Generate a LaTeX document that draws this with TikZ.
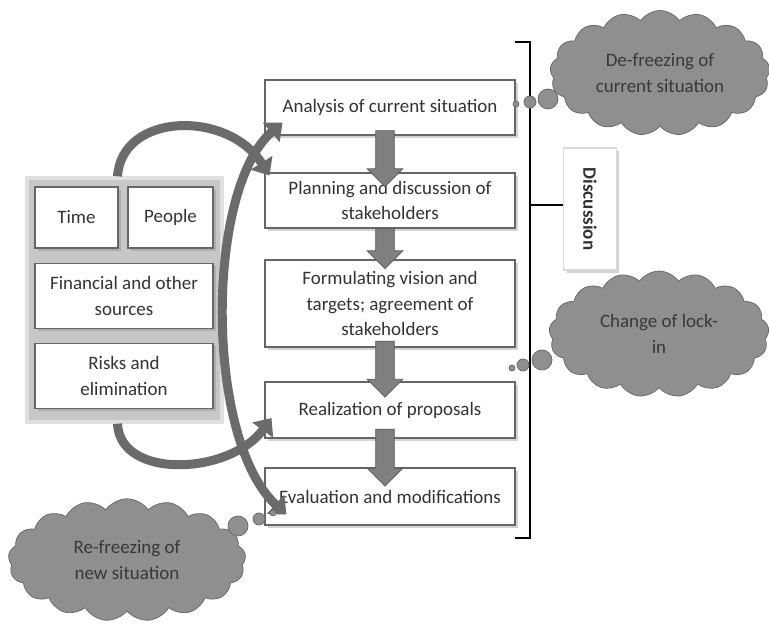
\documentclass[tikz,border=0pt]{standalone}
\usepackage{fontspec}
\setmainfont{Carlito}
\usetikzlibrary{shapes.symbols,shapes.arrows,shadows,calc,arrows.meta}

\tikzset{
    stage/.style={draw=black!60, line width=0.6pt, fill=white, align=center, text=black!80,
        inner sep=2pt, font=\fontsize{10.8}{14.5}\selectfont,
        drop shadow={shadow xshift=0.06cm, shadow yshift=-0.06cm, opacity=0.35}},
    resbg/.style={fill=black!22, draw=black!12, line width=2pt},
    dnarrow/.style={single arrow, shape border rotate=270, draw=black!65, fill=black!50,
        single arrow head extend=0.17cm, inner sep=0.18cm, xshift=-0.1cm},
    curvearrow/.style={draw=black!58, line width=0.18cm},
    thought/.style={cloud, cloud puffs=17, cloud puff arc=110, aspect=2, draw=black!60,
        fill=black!44, align=center, text=black!78, font=\fontsize{10.8}{14.5}\selectfont},
    bubble/.style={draw=black!60, fill=black!44},
    brk/.style={draw=black, line width=1.1pt}
}

\begin{document}
\begin{tikzpicture}[x=0.02cm, y=-0.02cm]
    \useasboundingbox (0,0) rectangle (769,624);

    % Resources
    \node[resbg, minimum width=3.9cm, minimum height=4.88cm] (grp) at (124.5,300) {};
    \node[stage, minimum width=1.66cm, minimum height=1.22cm] (time) at (76.5,217.5) {Time};
    \node[stage, minimum width=1.7cm, minimum height=1.22cm] (people) at (170.5,217.5) {People};
    \node[stage, minimum width=3.56cm, minimum height=1.3cm] (fin) at (124,296) {Financial and other\\sources};
    \node[stage, minimum width=3.56cm, minimum height=1.3cm] (risk) at (124,376) {Risks and\\elimination};

    % Process steps
    \node[stage, minimum width=5cm, minimum height=1.1cm] (ana) at (390,107.5) {Analysis of current situation};
    \node[stage, minimum width=5cm, minimum height=1.1cm] (plan) at (390,200.5) {Planning and discussion of\\stakeholders};
    \node[stage, minimum width=5cm, minimum height=1.74cm] (form) at (390,303.5) {Formulating vision and\\targets; agreement of\\stakeholders};
    \node[stage, minimum width=5cm, minimum height=1.12cm] (real) at (390,410) {Realization of proposals};
    \node[stage, minimum width=5cm, minimum height=1.14cm] (eval) at (390,496.5) {Evaluation and modifications};

    % Block arrows
    \node[dnarrow, minimum height=1.12cm] at ($(ana.south)!0.5!(plan.north)$) {};
    \node[dnarrow, minimum height=0.8cm] at ($(plan.south)!0.5!(form.north)$) {};
    \node[dnarrow, minimum height=1.12cm] at ($(form.south)!0.5!(real.north)$) {};
    \node[dnarrow, minimum height=1.14cm] at ($(real.south)!0.5!(eval.north)$) {};

    % Curved arrows
    \draw[curvearrow, -{Triangle[length=0.3cm,width=0.5cm]}]
        ($(grp.north)+(-7,0)$) .. controls (122,112) and (228,110) .. ($(plan.north west)+(5,3)$);
    \draw[curvearrow, -{Triangle[length=0.3cm,width=0.5cm]}]
        ($(grp.south)+(-7,0)$) .. controls (120,480) and (230,475) .. ($(real.west)+(7,8)$);
    \draw[curvearrow, {Triangle[length=0.3cm,width=0.5cm]}-{Triangle[length=0.3cm,width=0.5cm]}]
        ($(eval.south west)+(22,-11)$) .. controls (205,440) and (205,190) .. ($(ana.south west)+(18,-13)$);

    % Discussion bracket
    \draw[brk] (515,42) -| (530,538) -- (515,538);
    \node[stage, minimum width=1.06cm, minimum height=2.44cm, draw=black!15] (disc) at (590,209) {\rotatebox{-90}{\textbf{Discussion}}};
    \coordinate (brkmid) at (530,205);
    \draw[brk] (brkmid) -- (brkmid -| disc.west);

    % Thoughts
    \node[thought, minimum width=4.4cm, minimum height=2.5cm] (defreeze) at (660,73) {De-freezing of\\current situation};
    \filldraw[bubble] (516,104) circle (3);
    \filldraw[bubble] (530,102) circle (6);
    \filldraw[bubble] (548,99) circle (10);

    \node[thought, minimum width=4.4cm, minimum height=2.52cm] (lockin) at (659,334) {Change of lock-\\in};
    \filldraw[bubble] (512,368) circle (3);
    \filldraw[bubble] (523,365) circle (6);
    \filldraw[bubble] (542,360) circle (10);

    \node[thought, minimum width=4.75cm, minimum height=2.45cm] (refreeze) at (127,560) {Re-freezing of\\new situation};
    \filldraw[bubble] (238,526) circle (10);
    \filldraw[bubble] (259,519) circle (6);
    \filldraw[bubble] (273,513) circle (3);
\end{tikzpicture}
\end{document}
